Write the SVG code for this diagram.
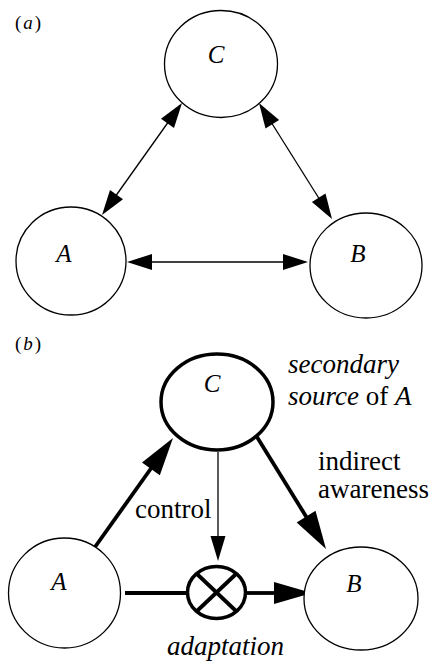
<svg xmlns="http://www.w3.org/2000/svg" width="432" height="666" viewBox="0 0 432 666">
<rect x="0" y="0" width="432" height="666" fill="#fff"/>
<text x="15" y="29" font-family="Liberation Serif, Times New Roman, serif" font-size="19">(<tspan font-style="italic" dx="2">a</tspan><tspan dx="2">)</tspan></text>
<text x="15" y="350" font-family="Liberation Serif, Times New Roman, serif" font-size="19">(<tspan font-style="italic" dx="2">b</tspan><tspan dx="2">)</tspan></text>

<g id="connectors">
  <g stroke="#000" stroke-width="1.3" fill="none">
    <line x1="140" y1="262" x2="295" y2="262"/>
    <line x1="174" y1="114" x2="110" y2="204"/>
    <line x1="266" y1="114" x2="325" y2="208"/>
    <line x1="218" y1="452" x2="218" y2="540"/>
  </g>
  <g fill="#000" stroke="none">
    <polygon points="127,262 152,254 152,270"/>
    <polygon points="308,262 283,254 283,270"/>
    <polygon points="182,103 174,128 161,118.7"/>
    <polygon points="102,215 123,199.3 110,190"/>
    <polygon points="259,103 279.1,119.9 265.5,128.4"/>
    <polygon points="332,219 325.5,193.6 311.9,202.1"/>
    <polygon points="218,561 210.5,536 225.5,536"/>
  </g>
  <g stroke="#000" stroke-width="3.8" fill="none">
    <line x1="95" y1="547" x2="152" y2="467"/>
    <line x1="257" y1="437" x2="307" y2="518"/>
    <line x1="125" y1="593" x2="187" y2="593"/>
    <line x1="247" y1="593" x2="276" y2="593"/>
  </g>
  <g fill="#000" stroke="none">
    <polygon points="173,438 159.8,475.3 142,462.5"/>
    <polygon points="326,549 315.5,510.8 296.7,522.4"/>
    <polygon points="312,593 274,582 274,604"/>
  </g>
</g>

<g id="a-C"><ellipse cx="221" cy="64" rx="56.5" ry="53.5" fill="#fff" stroke="#000" stroke-width="1.3"/><text x="216" y="63" font-family="Liberation Serif, Times New Roman, serif" font-size="25" font-style="italic" text-anchor="middle">C</text></g>
<g id="a-A"><ellipse cx="71" cy="261" rx="55" ry="54" fill="#fff" stroke="#000" stroke-width="1.3"/><text x="64" y="262" font-family="Liberation Serif, Times New Roman, serif" font-size="25" font-style="italic" text-anchor="middle">A</text></g>
<g id="a-B"><ellipse cx="366" cy="265.5" rx="56" ry="52.5" fill="#fff" stroke="#000" stroke-width="1.3"/><text x="358" y="262" font-family="Liberation Serif, Times New Roman, serif" font-size="25" font-style="italic" text-anchor="middle">B</text></g>
<g id="b-C"><ellipse cx="217" cy="402" rx="56" ry="48" fill="#fff" stroke="#000" stroke-width="3.5"/><text x="212" y="392" font-family="Liberation Serif, Times New Roman, serif" font-size="25" font-style="italic" text-anchor="middle">C</text></g>
<g id="b-A"><ellipse cx="64.5" cy="593" rx="56" ry="55" fill="#fff" stroke="#000" stroke-width="1.3"/><text x="59" y="590" font-family="Liberation Serif, Times New Roman, serif" font-size="25" font-style="italic" text-anchor="middle">A</text></g>
<g id="b-B"><ellipse cx="361" cy="598.5" rx="57" ry="51.5" fill="#fff" stroke="#000" stroke-width="1.3"/><text x="354" y="592" font-family="Liberation Serif, Times New Roman, serif" font-size="25" font-style="italic" text-anchor="middle">B</text></g>
<g id="b-adapt" stroke="#000" stroke-width="3.8" fill="#fff">
  <ellipse cx="216.5" cy="592.5" rx="29" ry="26" stroke-width="3.5"/>
  <line x1="197" y1="574" x2="236" y2="611"/>
  <line x1="236" y1="574" x2="197" y2="611"/>
</g>

<g id="labels">
  <text x="288" y="373" font-family="Liberation Serif, Times New Roman, serif" font-size="27" font-style="italic">secondary</text>
  <text x="288" y="405" font-family="Liberation Serif, Times New Roman, serif" font-size="27"><tspan font-style="italic">source</tspan> of <tspan font-style="italic">A</tspan></text>
  <text x="318" y="470" font-family="Liberation Serif, Times New Roman, serif" font-size="27">indirect</text>
  <text x="318" y="498" font-family="Liberation Serif, Times New Roman, serif" font-size="27">awareness</text>
  <text x="135" y="518" font-family="Liberation Serif, Times New Roman, serif" font-size="27">control</text>
  <text x="167" y="655" font-family="Liberation Serif, Times New Roman, serif" font-size="27" font-style="italic">adaptation</text>
</g>
</svg>
